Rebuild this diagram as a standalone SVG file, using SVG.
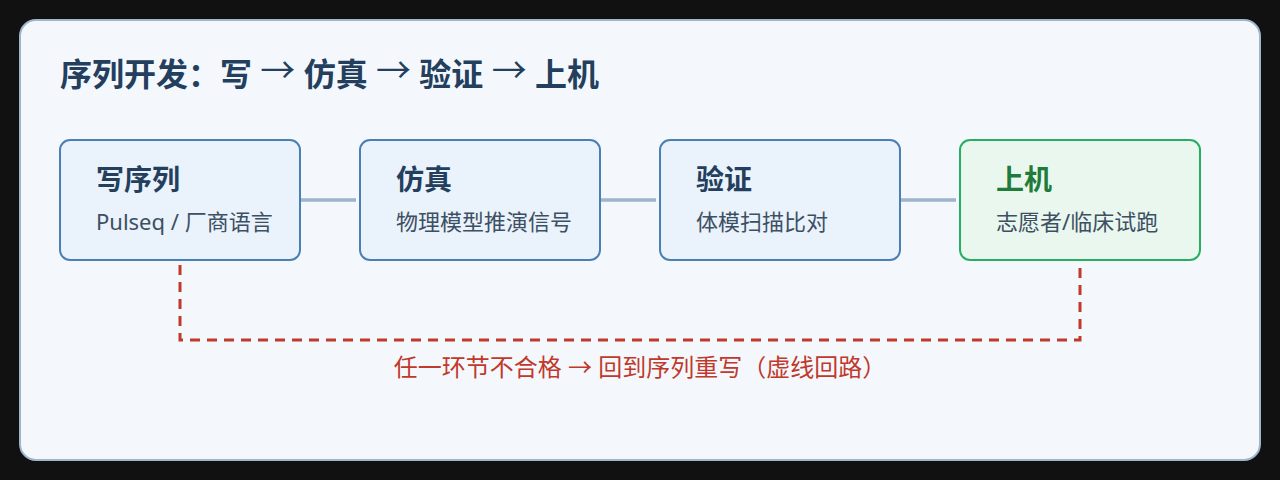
<svg xmlns="http://www.w3.org/2000/svg" width="1280" height="480" viewBox="0 0 1280 480">
<style>
.t{font-family:"Noto Sans","Noto Sans CJK SC",sans-serif}
.main{font-size:32px;font-weight:700;fill:#243f5e}
.ar{font-family:"Noto Sans CJK SC",sans-serif;font-weight:400}
.ar2{font-size:35px}
.nt{font-size:28px;font-weight:700;fill:#243f5e}
.ns{font-size:22px;fill:#3d4f63}
.box{fill:#eaf2fb;stroke:#4a7fb5;stroke-width:2}
.gbox{fill:#e9f7ee;stroke:#27ae60;stroke-width:2}
.link{stroke:#9fb3cc;stroke-width:3.5;fill:none}
.loop{stroke:#c0392b;stroke-width:3;fill:none;stroke-dasharray:10 7}
.lbl{font-size:24px;fill:#c0392b}
</style>
<rect width="1280" height="480" fill="#111111"/>
<rect x="20" y="20" width="1240" height="440" rx="16" fill="#f4f8fc" stroke="#a0b4cc" stroke-width="2"/>
<text class="t main" x="60" y="86">序列开发：写 <tspan class="ar ar2" dy="-3">→</tspan><tspan dy="3"> 仿真 </tspan><tspan class="ar ar2" dy="-3">→</tspan><tspan dy="3"> 验证 </tspan><tspan class="ar ar2" dy="-3">→</tspan><tspan dy="3"> 上机</tspan></text>
<g id="connectors">
<line class="link" x1="300" y1="200" x2="356" y2="200"/>
<line class="link" x1="600" y1="200" x2="656" y2="200"/>
<line class="link" x1="900" y1="200" x2="956" y2="200"/>
<path class="loop" d="M180 265 V340 H1080 V262"/>
<text class="t lbl" x="640" y="376" text-anchor="middle">任一环节不合格 <tspan class="ar">→</tspan> 回到序列重写（虚线回路）</text>
</g>
<g id="node-write">
<rect class="box" x="60" y="140" width="240" height="120" rx="10"/>
<text class="t nt" x="96" y="190">写序列</text>
<text class="t ns" x="96" y="230">Pulseq / 厂商语言</text>
</g>
<g id="node-sim">
<rect class="box" x="360" y="140" width="240" height="120" rx="10"/>
<text class="t nt" x="396" y="190">仿真</text>
<text class="t ns" x="396" y="230">物理模型推演信号</text>
</g>
<g id="node-verify">
<rect class="box" x="660" y="140" width="240" height="120" rx="10"/>
<text class="t nt" x="696" y="190">验证</text>
<text class="t ns" x="696" y="230">体模扫描比对</text>
</g>
<g id="node-scan">
<rect class="gbox" x="960" y="140" width="240" height="120" rx="10"/>
<text class="t nt" x="996" y="190" style="fill:#1e7b3a">上机</text>
<text class="t ns" x="996" y="230">志愿者/临床试跑</text>
</g>
</svg>
